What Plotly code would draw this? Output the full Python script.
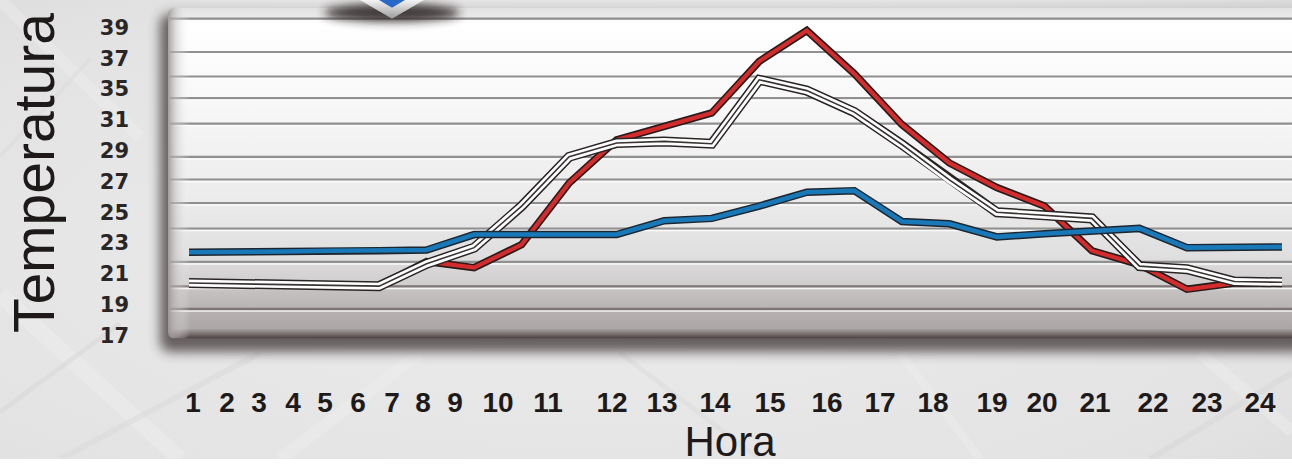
import base64
import numpy as np
import plotly.graph_objects as go

# ---------------- data ----------------
hours = list(range(1, 25))
hour_labels = [str(h) for h in hours]
temp_ticks = [39, 37, 35, 31, 29, 27, 25, 23, 21, 19, 17]

serie_azul = [22.4, 22.4, 22.45, 22.5, 22.5, 22.55, 23.55, 23.55, 23.55, 23.55, 24.45, 24.6,
              25.4, 26.3, 26.4, 24.4, 24.25, 23.4, 23.6, 23.8, 23.95, 22.7, 22.75, 22.75]
serie_roja = [20.4, 20.35, 20.3, 20.25, 20.2, 21.8, 21.4, 22.9, 26.9, 29.7, 30.6, 31.9,
              36.8, 38.8, 36.0, 30.7, 28.2, 26.6, 25.4, 22.5, 21.6, 20.0, 20.4, 20.4]
serie_blanca = [20.4, 20.35, 20.3, 20.25, 20.2, 21.65, 22.7, 25.4, 28.6, 29.5, 29.6, 29.45,
                35.6, 34.8, 32.0, 29.4, 27.1, 25.0, 24.8, 24.6, 21.5, 21.3, 20.5, 20.45]

# ---------------- axis scale (labels are evenly spaced) ----------------
asc_ticks = sorted(temp_ticks)
asc_index = list(range(len(asc_ticks)))


def to_axis(values):
    return np.interp(values, asc_ticks, asc_index)


# ---------------- layout constants ----------------
W, H = 1292, 468
PL, PR, PT, PB = 168, 1292, 8, 345          # plot panel in pixels
FIRST_PX, LAST_PX = 189, 1282               # where hour 1 and hour 24 sit
x_label_px = [193, 227, 259, 293, 325, 358, 392, 423, 455, 498, 548, 612,
              662, 715, 770, 827, 880, 933, 992, 1042, 1095, 1153, 1207, 1260]
px_per_hour = (LAST_PX - FIRST_PX) / 23.0
x_range = [1 - (FIRST_PX - PL) / px_per_hour, 1 + (PR - FIRST_PX) / px_per_hour]
x_tickvals = [1 + (p - FIRST_PX) / px_per_hour for p in x_label_px]
step_px = 31.4
y_range = [-(PB - 342) / step_px, (342 - PT) / step_px]

# ---------------- decorative background (svg) ----------------
grid_y = [19, 53, 78, 100, 126, 160, 183, 207, 233, 267, 292, 315]
grid_svg = ""
for gy in grid_y:
    dark = "#7e7676" if gy > 285 else "#909090"
    grid_svg += (f'<line x1="{PL+2}" y1="{gy}" x2="{W}" y2="{gy}" stroke="{dark}" stroke-width="2.2"/>'
                 f'<line x1="{PL+2}" y1="{gy+2.2}" x2="{W}" y2="{gy+2.2}" stroke="#ffffff" stroke-width="1.4" opacity="0.85"/>')

lattice = ""
for (x1, y1, x2, y2, c, w) in [
    (0, 300, 180, 468, "#f0f0f0", 16), (0, 420, 120, 330, "#d6d6d6", 5),
    (60, 468, 260, 360, "#d8d8d8", 6), (280, 468, 420, 360, "#efefef", 12),
    (620, 360, 760, 468, "#dadada", 5), (1150, 468, 1292, 380, "#d6d6d6", 6),
    (1200, 360, 1292, 440, "#efefef", 12), (900, 360, 980, 468, "#eeeeee", 8),
    (0, 0, 140, 140, "#eeeeee", 12), (0, 160, 90, 60, "#dadada", 4)]:
    lattice += f'<line x1="{x1}" y1="{y1}" x2="{x2}" y2="{y2}" stroke="{c}" stroke-width="{w}" opacity="0.45"/>'

svg = f'''<svg xmlns="http://www.w3.org/2000/svg" width="{W}" height="{H}" viewBox="0 0 {W} {H}">
<defs>
 <radialGradient id="bg" cx="0.45" cy="0.55" r="0.85">
  <stop offset="0" stop-color="#ececec"/><stop offset="0.7" stop-color="#e3e3e3"/><stop offset="1" stop-color="#d9d9d9"/>
 </radialGradient>
 <linearGradient id="panel" x1="0" y1="0" x2="0" y2="1">
  <stop offset="0" stop-color="#e2e2e2"/>
  <stop offset="0.035" stop-color="#ececec"/>
  <stop offset="0.045" stop-color="#ffffff"/>
  <stop offset="0.27" stop-color="#f8f8f8"/>
  <stop offset="0.57" stop-color="#ececec"/>
  <stop offset="0.75" stop-color="#dfdfdf"/>
  <stop offset="0.84" stop-color="#cfcccc"/>
  <stop offset="0.86" stop-color="#c4c0c0"/>
  <stop offset="0.97" stop-color="#aca6a6"/>
  <stop offset="0.99" stop-color="#6e6464"/>
  <stop offset="1" stop-color="#4a4040"/>
 </linearGradient>
 <linearGradient id="left" x1="0" y1="0" x2="1" y2="0">
  <stop offset="0" stop-color="#9a9494" stop-opacity="0.9"/>
  <stop offset="0.4" stop-color="#c8c4c4" stop-opacity="0.5"/>
  <stop offset="1" stop-color="#ffffff" stop-opacity="0"/>
 </linearGradient>
 <linearGradient id="silver" x1="0" y1="0" x2="0" y2="1">
  <stop offset="0" stop-color="#f4f4f4"/><stop offset="1" stop-color="#9c9c9c"/>
 </linearGradient>
 <filter id="blur" x="-20%" y="-20%" width="140%" height="140%"><feGaussianBlur stdDeviation="6"/></filter>
 <filter id="blur2" x="-50%" y="-100%" width="200%" height="300%"><feGaussianBlur stdDeviation="5"/></filter>
</defs>
<rect width="{W}" height="{H}" fill="url(#bg)"/>
{lattice}
<rect x="{PL-8}" y="{PT+6}" width="{W}" height="{PB-PT+8}" rx="10" fill="#3a3030" filter="url(#blur)" opacity="0.75"/>
<rect x="{PL}" y="{PT}" width="{W}" height="{PB-PT}" rx="6" fill="url(#panel)"/>
{grid_svg}
<rect x="{PL}" y="{PT}" width="22" height="{PB-PT}" rx="6" fill="url(#left)"/>
<ellipse cx="392" cy="13" rx="68" ry="9" fill="#2a2020" filter="url(#blur2)" opacity="0.9"/>
<polygon points="360,0 392,19 424,0" fill="url(#silver)"/>
<polygon points="379,0 392,8 405,0" fill="#2a68c8"/>
</svg>'''
svg_uri = "data:image/svg+xml;base64," + base64.b64encode(svg.encode("utf-8")).decode("ascii")

# ---------------- figure ----------------
fig = go.Figure()


def add_series(values, layers, name):
    yv = to_axis(values)
    for color, width in layers:
        fig.add_trace(go.Scatter(x=hours, y=yv, mode="lines", name=name, showlegend=False,
                                 line=dict(color=color, width=width), hoverinfo="skip"))


add_series(serie_roja, [("#2a1a1a", 7.5), ("#d42c2c", 4.2)], "Roja")
add_series(serie_blanca, [("#2a2424", 10), ("#ffffff", 7), ("#3a3434", 1.6)], "Blanca")
add_series(serie_azul, [("#1c2630", 7.5), ("#1878b8", 4.6)], "Azul")

fig.update_layout(
    width=W, height=H,
    margin=dict(l=0, r=0, t=0, b=0, pad=0),
    paper_bgcolor="rgba(0,0,0,0)", plot_bgcolor="rgba(0,0,0,0)",
    images=[dict(source=svg_uri, xref="paper", yref="paper", x=0, y=1, sizex=1, sizey=1,
                 xanchor="left", yanchor="top", sizing="stretch", layer="below")],
    xaxis=dict(domain=[PL / W, 1.0], range=x_range, tickvals=x_tickvals, ticktext=hour_labels,
               showgrid=False, zeroline=False, showline=False, ticks="", ticklabelstandoff=45,
               tickfont=dict(family="Liberation Sans", size=28, color="#1e1a1a", weight="bold"),
               title=dict(text="Hora", standoff=4,
                          font=dict(family="Liberation Sans", size=42, color="#1e1a1a"))),
    yaxis=dict(domain=[(H - PB) / H, (H - PT) / H], range=y_range,
               tickvals=list(to_axis(temp_ticks)), ticktext=[str(t) for t in temp_ticks],
               showgrid=False, zeroline=False, showline=False, ticks="", ticklabelstandoff=38,
               tickfont=dict(family="DejaVu Sans", size=21, color="#2a2626", weight="bold"),
               title=dict(text="Temperatura", standoff=26,
                          font=dict(family="Liberation Sans", size=57, color="#1e1a1a"))),
)

fig.write_html("out.html", config={"displayModeBar": False},
               post_script="document.body.style.margin='0px';")
